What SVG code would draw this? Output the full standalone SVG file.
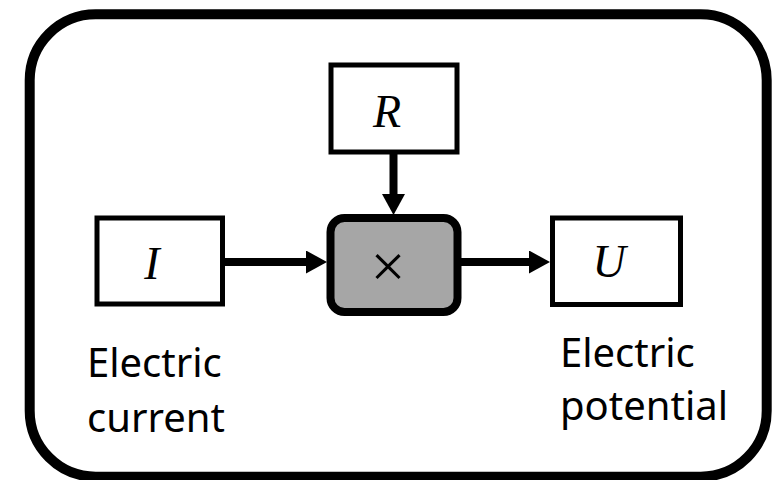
<svg xmlns="http://www.w3.org/2000/svg" width="776" height="480" viewBox="0 0 776 480">
<style>
.box{fill:#fff;stroke:#000;stroke-width:5}
.op{fill:#a6a6a6;stroke:#000;stroke-width:8}
.sym{font-family:"Liberation Serif",serif;font-style:italic;font-size:46px;text-anchor:middle}
.lbl{font-family:"Noto Sans","Open Sans",sans-serif;font-size:40px}
.conn{stroke:#000;stroke-width:8;fill:none}
</style>
<defs>
<marker id="ah" markerUnits="userSpaceOnUse" markerWidth="21" markerHeight="23" refX="0" refY="11.5" orient="auto">
<path d="M0,0 L21,11.5 L0,23 z" fill="#000"/>
</marker>
</defs>
<rect id="frame" x="29.7" y="14.3" width="737" height="462.4" rx="66" ry="66" fill="#fff" stroke="#000" stroke-width="10"/>
<g id="connectors">
<line class="conn" x1="225" y1="262" x2="306" y2="262" marker-end="url(#ah)"/>
<line class="conn" x1="461" y1="262" x2="529" y2="262" marker-end="url(#ah)"/>
<line class="conn" x1="393.5" y1="154" x2="393.5" y2="194" marker-end="url(#ah)"/>
</g>
<g id="node-R">
<rect class="box" x="331" y="65" width="126" height="87"/>
<text class="sym" x="387" y="127">R</text>
</g>
<g id="node-I">
<rect class="box" x="97" y="218" width="125.5" height="86"/>
<text class="sym" x="152" y="279">I</text>
</g>
<g id="node-mul">
<rect class="op" x="330.5" y="218" width="127" height="94" rx="14" ry="14"/>
<text x="388" y="287" font-family="Liberation Serif, serif" font-size="62" text-anchor="middle">×</text>
</g>
<g id="node-U">
<rect class="box" x="552.5" y="218" width="128" height="86.5"/>
<text class="sym" x="609" y="277">U</text>
</g>
<g id="label-current">
<text class="lbl" x="87" y="377">Electric</text>
<text class="lbl" x="87" y="432">current</text>
</g>
<g id="label-potential">
<text class="lbl" x="560" y="367">Electric</text>
<text class="lbl" x="560" y="420">potential</text>
</g>
</svg>
